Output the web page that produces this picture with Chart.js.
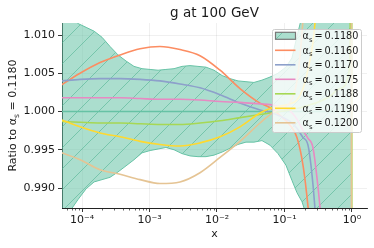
<!DOCTYPE html>
<html><head><meta charset="utf-8">
<script src="https://cdn.jsdelivr.net/npm/chart.js@4.4.1/dist/chart.umd.min.js"></script>
<style>html,body{margin:0;padding:0;background:#fff}#wrap{width:374px;height:248px;position:relative}</style>
</head><body><div id="wrap"><canvas id="c" width="374" height="248"></canvas></div>
<script>
// ---------------- data ----------------
const chartTitle = 'g at 100 GeV';
const xAxisLabel = 'x';
const yAxisLabelParts = ['Ratio to α', 's', ' = 0.1180'];
const alphaLabels = ['0.1180', '0.1160', '0.1170', '0.1175', '0.1188', '0.1190', '0.1200'];
const yTickValues = [0.990, 0.995, 1.000, 1.005, 1.010];

// x grid for the ratio curves
const xLine = [5e-5, 9.35e-5, 1.85e-4, 3.66e-4, 7.24e-4, 1.43e-3, 2.83e-3, 5.6e-3, 1.11e-2, 2.19e-2,
  4.34e-2, 6.1e-2, 8.58e-2, 0.121, 0.153, 0.188, 0.223, 0.264, 0.313, 0.372, 0.472, 0.664, 0.933, 0.97, 0.99, 1.0];
const ratio1180 = [1,1,1,1,1,1,1,1,1,1,1,1,1,1,1,1,1,1,1,1,1,1,1,1,1,1];
const ratio1160 = [1.0035,1.0050,1.0064,1.0074,1.0082,1.0085,1.0081,1.0073,1.0054,1.0030,1.0011,1.0005,0.9995,0.9982,0.9966,0.9930,0.9876,0.980,0.970,0.960,0.940,0.920,0.900,0.890,0.885,0.880];
const ratio1170 = [1.0040,1.0042,1.0043,1.0043,1.0042,1.0040,1.0036,1.0031,1.0022,1.0011,1.0002,0.9999,0.9994,0.9987,0.9978,0.9966,0.9956,0.9905,0.982,0.972,0.955,0.935,0.910,0.900,0.895,0.890];
const ratio1175 = [1.0018,1.0018,1.0018,1.0018,1.0017,1.0016,1.0016,1.0015,1.0013,1.0012,1.0010,1.0009,1.0006,1.0001,0.9990,0.9975,0.9965,0.9953,0.9902,0.983,0.970,0.950,0.930,0.920,0.915,0.910];
const ratio1188 = [0.9987,0.9986,0.9985,0.9985,0.9984,0.9983,0.9983,0.9985,0.9988,0.9992,0.9996,0.9998,1.0000,1.0002,1.0004,1.0006,1.0008,1.0010,1.0012,1.0015,1.0020,1.0030,1.0060,1.030,1.050,0.900];
const ratio1190 = [0.9989,0.9980,0.9972,0.9967,0.9961,0.9957,0.9955,0.9959,0.9967,0.9980,0.9998,1.0004,1.0007,1.0010,1.0015,1.0030,1.0055,1.0090,1.016,1.025,1.040,1.060,1.080,1.090,1.100,1.100];
const ratio1200 = [0.9946,0.9937,0.9924,0.9918,0.9911,0.9906,0.9908,0.9920,0.9940,0.9961,0.9985,0.9996,1.0004,1.0012,1.0040,1.0120,1.025,1.040,1.060,1.080,1.100,1.120,1.140,1.150,0.880,0.870];

// uncertainty band of alpha_s = 0.1180
const xBand = [5e-5, 6.65e-5, 8.73e-5, 1.15e-4, 1.51e-4, 1.98e-4, 2.6e-4, 3.41e-4, 4.49e-4, 5.89e-4, 7.74e-4,
  1.02e-3, 1.34e-3, 1.75e-3, 2.31e-3, 3.03e-3, 3.98e-3, 5.23e-3, 6.87e-3, 9.03e-3, 1.19e-2, 1.56e-2, 2.05e-2,
  2.69e-2, 3.53e-2, 4.64e-2, 6.1e-2, 8.01e-2, 0.105, 0.129, 0.153, 0.182, 0.239, 0.398, 0.664, 1.0];
const bandUpper = [1.0135,1.0125,1.0115,1.0110,1.0105,1.0097,1.0085,1.0074,1.0066,1.0059,1.0056,1.0055,1.0054,1.0055,1.0056,1.0059,1.0060,1.0059,1.0058,1.0054,1.0047,1.0043,1.0040,1.0039,1.0038,1.0041,1.0045,1.0050,1.0058,1.0070,1.0098,1.0125,1.018,1.030,1.050,1.080];
const bandLower = [0.9855,0.9870,0.9885,0.9899,0.9908,0.9911,0.9914,0.9921,0.9929,0.9937,0.9946,0.9949,0.9951,0.9953,0.9950,0.9945,0.9942,0.9941,0.9941,0.9943,0.9947,0.9952,0.9957,0.9960,0.9960,0.9962,0.9956,0.9945,0.9930,0.9910,0.9894,0.9882,0.985,0.975,0.960,0.930];

// ---------------- styles ----------------
const FONT = '"DejaVu Sans", "Liberation Sans", sans-serif';
const TXT = '#1a1a1a';
const lineColors = ['#66c2a5', '#fc8d62', '#8da0cb', '#e78ac3', '#a6d854', '#ffd92f', '#e5c494'];

const canvas = document.getElementById('c');
const ctx0 = canvas.getContext('2d');
function makeHatch() {
  const S = 21, c = document.createElement('canvas');
  c.width = S; c.height = S;
  const g = c.getContext('2d');
  g.fillStyle = 'rgba(102,194,165,0.55)';
  g.fillRect(0, 0, S, S);
  g.strokeStyle = 'rgba(70,175,140,0.75)';
  g.lineWidth = 0.7;
  g.beginPath();
  g.moveTo(-2, S + 2); g.lineTo(S + 2, -2);
  g.moveTo(-2, 2); g.lineTo(2, -2);
  g.moveTo(S - 2, S + 2); g.lineTo(S + 2, S - 2);
  g.stroke();
  return ctx0.createPattern(c, 'repeat');
}
const hatch = makeHatch();

function isPow10(v) { const l = Math.log10(v); return Math.abs(l - Math.round(l)) < 1e-9; }
function sup(n) {
  const m = {'-':'⁻','0':'⁰','1':'¹','2':'²','3':'³','4':'⁴','5':'⁵','6':'⁶','7':'⁷','8':'⁸','9':'⁹'};
  return String(n).split('').map(c => m[c]).join('');
}
const xy = (xs, ys) => xs.map((x, i) => ({x: x, y: ys[i]}));

const series = [ratio1180, ratio1160, ratio1170, ratio1175, ratio1188, ratio1190, ratio1200];
const lineSets = series.map((s, i) => ({
  label: 'αs = ' + alphaLabels[i],
  data: xy(xLine, s),
  borderColor: lineColors[i],
  borderWidth: 1.6,
  pointRadius: 0,
  cubicInterpolationMode: 'monotone',
  fill: false,
  order: 8 - i
}));

const datasets = [
  { label: 'band upper', data: xy(xBand, bandUpper), borderColor: '#66c2a5', borderWidth: 1,
    pointRadius: 0, tension: 0, fill: {target: 1}, backgroundColor: hatch, order: 100 },
  { label: 'band lower', data: xy(xBand, bandLower), borderColor: '#66c2a5', borderWidth: 1,
    pointRadius: 0, tension: 0, fill: false, order: 99 },
  ...lineSets
];

function drawRich(ctx, x, y, parts) {
  parts.forEach(p => {
    ctx.font = p.size + 'px ' + FONT;
    x += (p.pre || 0);
    ctx.fillText(p.t, x, y + (p.dy || 0));
    x += ctx.measureText(p.t).width + (p.post || 0);
  });
  return x;
}
function richWidth(ctx, parts) {
  let w = 0;
  parts.forEach(p => { ctx.font = p.size + 'px ' + FONT; w += (p.pre||0) + ctx.measureText(p.t).width + (p.post||0); });
  return w;
}

const deco = {
  id: 'deco',
  afterDraw(chart) {
    const ctx = chart.ctx, ca = chart.chartArea, xs = chart.scales.x;
    ctx.save();
    // minor ticks on log axis
    ctx.strokeStyle = '#222'; ctx.lineWidth = 0.7;
    xs.ticks.forEach(t => {
      if (!isPow10(t.value)) {
        const px = Math.round(xs.getPixelForValue(t.value)) + 0.5;
        ctx.beginPath(); ctx.moveTo(px, ca.bottom); ctx.lineTo(px, ca.bottom + 2.5); ctx.stroke();
      }
    });
    ctx.fillStyle = TXT;
    ctx.textBaseline = 'alphabetic';
    // title
    ctx.font = '13.5px ' + FONT; ctx.textAlign = 'center';
    ctx.fillText(chartTitle, (ca.left + ca.right) / 2, 17);
    // x label
    ctx.font = '11px ' + FONT;
    ctx.fillText(xAxisLabel, (ca.left + ca.right) / 2, 237);
    // y label
    ctx.textAlign = 'left';
    const yParts = [{t: yAxisLabelParts[0], size: 11}, {t: yAxisLabelParts[1], size: 7.7, dy: 2.5}, {t: yAxisLabelParts[2], size: 11}];
    const yw = richWidth(ctx, yParts);
    ctx.save();
    ctx.translate(16, (ca.top + ca.bottom) / 2);
    ctx.rotate(-Math.PI / 2);
    drawRich(ctx, -yw / 2, 0, yParts);
    ctx.restore();
    // legend
    const lx = 272.5, ly = 29.5, lw = 89, lh = 103;
    ctx.beginPath();
    ctx.roundRect(lx, ly, lw, lh, 2);
    ctx.fillStyle = 'rgba(255,255,255,0.8)'; ctx.fill();
    ctx.strokeStyle = '#cccccc'; ctx.lineWidth = 1; ctx.stroke();
    for (let i = 0; i < alphaLabels.length; i++) {
      const cy = 35.8 + i * 14.5;
      if (i === 0) {
        ctx.fillStyle = '#ffffff'; ctx.fillRect(275.5, cy - 3.5, 20, 7);
        ctx.fillStyle = hatch; ctx.fillRect(275.5, cy - 3.5, 20, 7);
        ctx.strokeStyle = '#777'; ctx.lineWidth = 1.2; ctx.strokeRect(275.5, cy - 3.5, 20, 7);
      } else {
        ctx.strokeStyle = lineColors[i]; ctx.lineWidth = 1.6;
        ctx.beginPath(); ctx.moveTo(275, cy); ctx.lineTo(295.5, cy); ctx.stroke();
      }
      ctx.fillStyle = TXT;
      drawRich(ctx, 302.5, cy + 3.4, [
        {t: 'α', size: 9.7}, {t: 's', size: 6.8, dy: 2.3},
        {t: '=', size: 9.7, pre: 2, post: 2}, {t: alphaLabels[i], size: 9.7}
      ]);
    }
    ctx.restore();
  }
};

const gridCol = 'rgba(0,0,0,0.075)';
new Chart(canvas, {
  type: 'line',
  data: { datasets: datasets },
  options: {
    responsive: false, animation: false, devicePixelRatio: 1,
    parsing: true,
    layout: { padding: { left: 0, right: 7, top: 23, bottom: 0 } },
    plugins: { legend: { display: false }, title: { display: false }, tooltip: { enabled: false } },
    scales: {
      x: {
        type: 'logarithmic', min: 5.05e-5, max: 1.67,
        afterBuildTicks(scale) {
          const t = [];
          for (let k = -5; k <= 0; k++) for (let m = 1; m <= 9; m++) {
            const v = m * Math.pow(10, k);
            if (v >= scale.min && v <= scale.max) t.push({ value: v, major: m === 1 });
          }
          scale.ticks = t;
        },
        afterFit(scale) { scale.height = 40; },
        border: { display: true, color: '#222', width: 1 },
        grid: {
          color: c => (c.tick && isPow10(c.tick.value)) ? gridCol : 'rgba(0,0,0,0)',
          tickColor: c => (c.tick && isPow10(c.tick.value)) ? '#222' : 'rgba(0,0,0,0)',
          lineWidth: 0.8, tickLength: 4, tickWidth: 0.9, drawTicks: true
        },
        ticks: {
          autoSkip: false, maxRotation: 0, minRotation: 0, padding: 2, color: TXT,
          font: { family: FONT, size: 11 },
          callback: v => isPow10(v) ? '10' + sup(Math.round(Math.log10(v))) : ''
        }
      },
      y: {
        type: 'linear', min: 0.98739, max: 1.01157,
        afterBuildTicks(scale) { scale.ticks = yTickValues.map(v => ({ value: v })); },
        afterFit(scale) { scale.width = 62; },
        border: { display: true, color: '#222', width: 1 },
        grid: { color: gridCol, lineWidth: 0.8, tickColor: '#222', tickLength: 4, tickWidth: 0.9 },
        ticks: { padding: 3, color: TXT, font: { family: FONT, size: 11 }, callback: v => v.toFixed(3) }
      }
    }
  },
  plugins: [deco]
});
</script>
</body></html>
